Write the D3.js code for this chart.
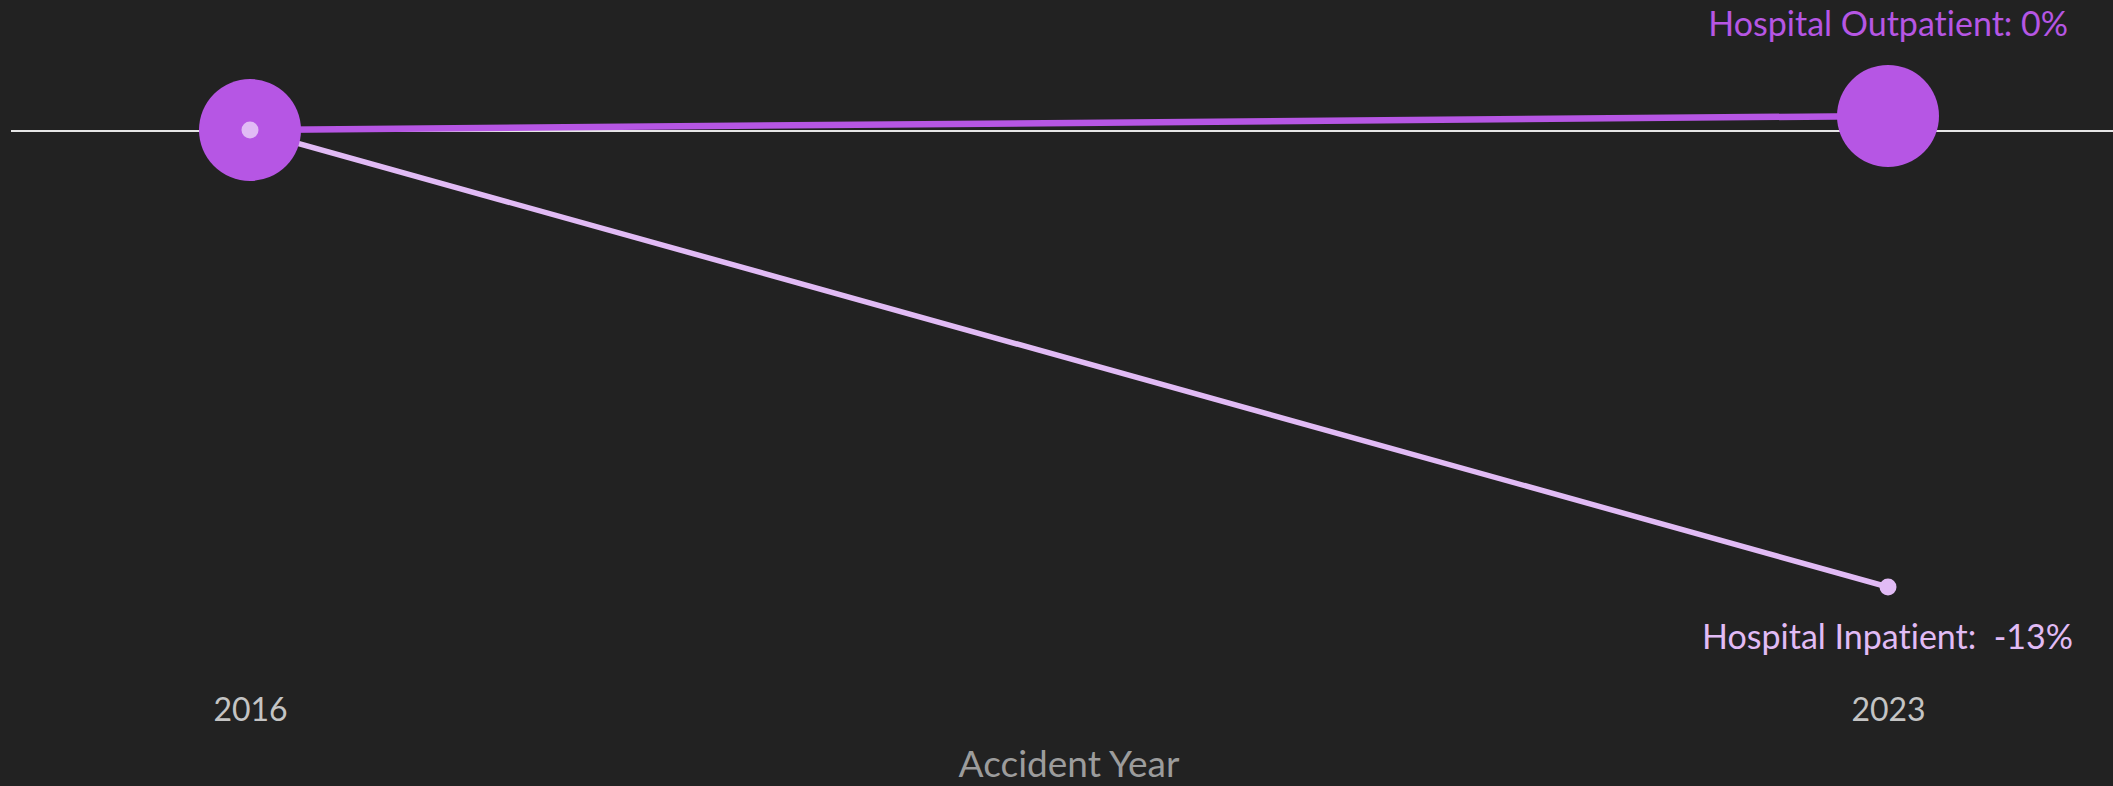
<!DOCTYPE html>
<html><head><meta charset="utf-8">
<script src="https://cdn.jsdelivr.net/npm/d3@7"></script>
<style>html,body{margin:0;padding:0;background:#222222;overflow:hidden}
text{font-variant-ligatures:none;font-feature-settings:"liga" 0,"clig" 0}</style>
</head><body>
<svg id="chart" width="2113" height="786"></svg>
<script>
const years = [2016, 2023];
const outpatient = [0, 0.004];
const inpatient = [0, -0.13];
const seriesNames = ["Hospital Outpatient", "Hospital Inpatient"];
const endLabels = ["Hospital Outpatient: 0%", "Hospital Inpatient:  -13%"];
const tickLabels = ["2016", "2023"];
const axisTitle = "Accident Year";

const W = 2113, H = 786;
const svg = d3.select("#chart");
const font = "Lato, 'Open Sans', sans-serif";

const x = d3.scalePoint().domain(years).range([250, 1888]);
const y = d3.scaleLinear().domain([-0.13, 0]).range([587, 130]);

// zero line
svg.append("line").attr("x1", 11).attr("x2", W)
  .attr("y1", y(0) + 1).attr("y2", y(0) + 1)
  .attr("stroke", "#e6e6e6").attr("stroke-width", 2);

const line = d3.line().x((d, i) => x(years[i])).y(d => y(d));

const cOut = "#b656e4", cIn = "#e1bbf5";

svg.append("path").datum(inpatient).attr("d", line)
  .attr("fill", "none").attr("stroke", cIn).attr("stroke-width", 5.5);
svg.append("path").datum(outpatient).attr("d", line)
  .attr("fill", "none").attr("stroke", cOut).attr("stroke-width", 6.5);

svg.selectAll(".out").data(outpatient).join("circle").attr("class", "out")
  .attr("cx", (d, i) => x(years[i])).attr("cy", d => y(d)).attr("r", 51).attr("fill", cOut);
svg.selectAll(".in").data(inpatient).join("circle").attr("class", "in")
  .attr("cx", (d, i) => x(years[i])).attr("cy", d => y(d)).attr("r", 8.5).attr("fill", cIn);

// end labels
svg.append("text").attr("x", 2068).attr("y", 36).attr("text-anchor", "end")
  .attr("font-family", font).attr("font-size", 34).attr("fill", cOut)
  .style("white-space", "pre").text(endLabels[0]);
svg.append("text").attr("x", 2073).attr("y", 649).attr("text-anchor", "end")
  .attr("font-family", font).attr("font-size", 34).attr("fill", cIn)
  .style("white-space", "pre").text(endLabels[1]);

// x axis
const xAxis = d3.axisBottom(x).tickSize(0).tickFormat((d, i) => tickLabels[i]);
const gx = svg.append("g").attr("transform", "translate(0,690)").call(xAxis);
gx.select(".domain").remove();
gx.selectAll("text").attr("font-family", font).attr("font-size", 32)
  .attr("fill", "#c4c4c4").attr("dy", null).attr("y", 31);

svg.append("text").attr("x", (x(2016) + x(2023)) / 2).attr("y", 777)
  .attr("text-anchor", "middle").attr("font-family", font).attr("font-size", 37)
  .attr("fill", "#9c9c9c").text(axisTitle);
</script>
</body></html>
